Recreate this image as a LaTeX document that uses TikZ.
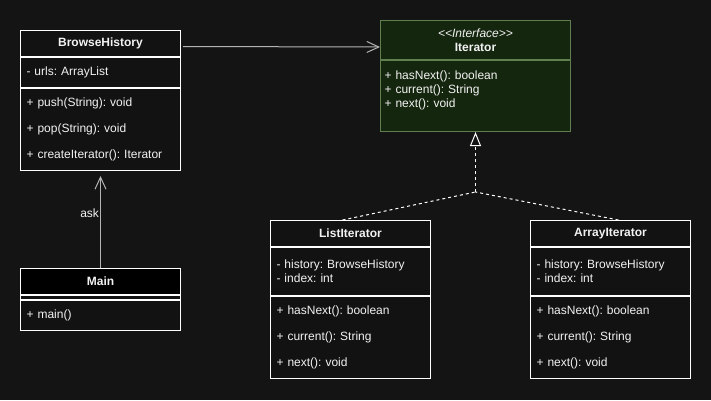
\documentclass[tikz,border=0pt]{standalone}
\usepackage{fontspec}
\setmainfont{Liberation Sans}
\usetikzlibrary{arrows.meta, positioning, calc}
\definecolor{canvasbg}{HTML}{141414}
\definecolor{boxfill}{HTML}{121212}
\definecolor{ifacefill}{HTML}{15260F}
\definecolor{ifaceline}{HTML}{5F7F50}
\definecolor{linkgrey}{HTML}{B4B4B4}
\definecolor{inktext}{HTML}{F2F2F2}
\frenchspacing

\begin{document}
\begin{tikzpicture}[
    x=1pt, y=-1pt,
    every node/.style={font=\fontsize{12}{14}\selectfont, text=inktext},
    compartment/.style={
      rectangle, draw=white, line width=1pt, fill=boxfill,
      minimum width=160pt, text width=148pt, inner xsep=6pt,
      inner ysep=0pt, align=left
    },
    classhead/.style={compartment, align=center,
      font=\fontsize{12}{14}\selectfont\bfseries},
    methods/.style={font=\fontsize{12}{26}\selectfont},
    ifacebox/.style={compartment, draw=ifaceline, fill=ifacefill,
      minimum width=190pt, text width=182pt, inner xsep=4pt},
    assoc/.style={-{Straight Barb[length=12pt, width=11pt]}, line width=1pt, draw=linkgrey},
    realize/.style={line width=1pt, draw=white, dashed},
    linklabel/.style={inner sep=1pt}
  ]

  \fill[canvasbg] (0,0) rectangle (711,400);

  % ===== BrowseHistory =====
  \node[classhead, minimum height=26pt, anchor=north west] (bhhead) at (20,30)
    {BrowseHistory};
  \node[compartment, minimum height=30pt, below=0pt of bhhead] (bhattr)
    {- urls: ArrayList};
  \node[compartment, methods, minimum height=82pt, below=0pt of bhattr] (bhops)
    {+ push(String): void\\+ pop(String): void\\+ createIterator(): Iterator};

  % ===== Main =====
  \node[classhead, fill=black, minimum height=26pt, anchor=north west] (mainhead) at (20,268)
    {Main};
  \node[compartment, minimum height=4pt, below=0pt of mainhead] (mainattr) {};
  \node[compartment, minimum height=30pt, below=0pt of mainattr] (mainops)
    {+ main()};

  % ===== Iterator interface =====
  \node[ifacebox, align=center, minimum height=39pt, anchor=north west] (ifacehead) at (380,20)
    {{\itshape <\kern0pt<Interface>\kern0pt>}\\\textbf{Iterator}};
  \node[ifacebox, minimum height=71pt, below=0pt of ifacehead] (ifaceops)
    {+ hasNext(): boolean\\+ current(): String\\+ next(): void\\\mbox{}};

  % ===== ListIterator =====
  \node[classhead, minimum height=26pt, anchor=north west] (lihead) at (270,220)
    {ListIterator};
  \node[compartment, minimum height=48pt, below=0pt of lihead] (liattr)
    {- history: BrowseHistory\\- index: int};
  \node[compartment, methods, minimum height=82pt, below=0pt of liattr] (liops)
    {+ hasNext(): boolean\\+ current(): String\\+ next(): void};

  % ===== ArrayIterator =====
  \node[classhead, minimum height=26pt, anchor=north west] (aihead) at (530,220)
    {ArrayIterator};
  \node[compartment, minimum height=48pt, below=0pt of aihead] (aiattr)
    {- history: BrowseHistory\\- index: int};
  \node[compartment, methods, minimum height=82pt, below=0pt of aiattr] (aiops)
    {+ hasNext(): boolean\\+ current(): String\\+ next(): void};

  % ===== associations =====
  \draw[assoc, shorten >=5pt] (mainhead.north) --
    node[linklabel, pos=0.57, anchor=east] {ask} (bhops.south);
  \draw[assoc, shorten <=2pt] ([yshift=-3pt]bhhead.east) -- ([yshift=-7pt]ifacehead.west);

  % ===== realization =====
  \coordinate (join) at ($(ifaceops.south)+(0,60)$);
  \draw[realize] ([xshift=-8pt]lihead.north) -- (join);
  \draw[realize] ([xshift=8pt]aihead.north) -- (join);
  \draw[realize, -{Triangle[open, length=14pt, width=11pt]}] (join) -- (ifaceops.south);

\end{tikzpicture}
\end{document}
